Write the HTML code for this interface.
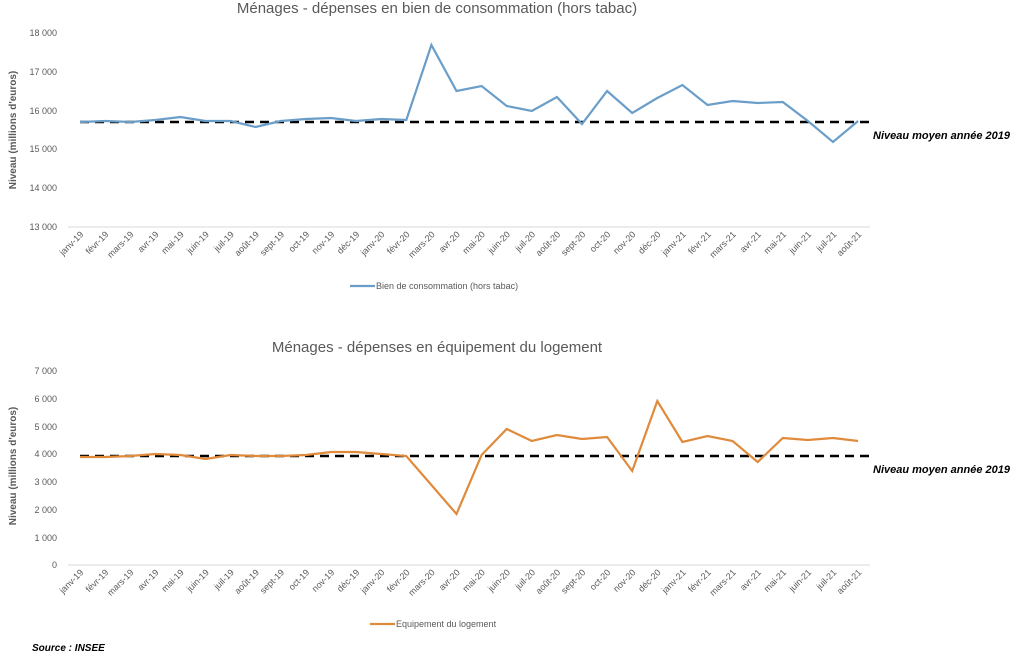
<!DOCTYPE html>
<html><head><meta charset="utf-8"><style>
body{margin:0;background:#fff;}
svg{display:block;font-family:"Liberation Sans",sans-serif;}
</style></head><body>
<svg width="1024" height="658" viewBox="0 0 1024 658" xmlns="http://www.w3.org/2000/svg">
<g id="c"></g>
</svg>
<script>
var months=["janv-19","févr-19","mars-19","avr-19","mai-19","juin-19","juil-19","août-19","sept-19","oct-19","nov-19","déc-19","janv-20","févr-20","mars-20","avr-20","mai-20","juin-20","juil-20","août-20","sept-20","oct-20","nov-20","déc-20","janv-21","févr-21","mars-21","avr-21","mai-21","juin-21","juil-21","août-21"];
var valsA=[122,121,122,120,117,121,121,127,121,119,118,121,119,120,45,91,86,106,111,97,124,91,113,98,85,105,101,103,102,121,142,121];
var valsB=[457,457,456,454,455,459,455,456,456,455,452,452,454,456,485,514,455,429,441,435,439,437,471,401,442,436,441,462,438,440,438,441];
function X(i){return 80+i*25.1;}
var s='';
function chart(title,ty,vals,color,yTicks,axisY,dashY,legY,legText,legX){
 s+='<text x="437" y="'+ty+'" text-anchor="middle" font-size="15" fill="#595959">'+title+'</text>';
 yTicks.forEach(function(t){s+='<text x="57" y="'+(t[1]+3)+'" text-anchor="end" font-size="9" fill="#595959">'+t[0]+'</text>';});
 s+='<line x1="68" y1="'+axisY+'" x2="870" y2="'+axisY+'" stroke="#d9d9d9"/>';
 months.forEach(function(m,i){var x=X(i);s+='<text transform="translate('+(x+4)+','+(axisY+8)+') rotate(-45)" text-anchor="end" font-size="9" fill="#595959">'+m+'</text>';});
 s+='<line x1="80" y1="'+dashY+'" x2="870" y2="'+dashY+'" stroke="#000" stroke-width="2.5" stroke-dasharray="9,6"/>';
 s+='<polyline fill="none" stroke="'+color+'" stroke-width="2.2" points="'+vals.map(function(v,i){return X(i)+','+v;}).join(' ')+'"/>';
 s+='<text x="873" y="'+(dashY+17)+'" font-size="11" font-weight="bold" font-style="italic" fill="#000">Niveau moyen année 2019</text>';
 s+='<line x1="'+legX+'" y1="'+legY+'" x2="'+(legX+25)+'" y2="'+legY+'" stroke="'+color+'" stroke-width="2.2"/>';
 s+='<text x="'+(legX+26)+'" y="'+(legY+3)+'" font-size="9" fill="#595959">'+legText+'</text>';
}
chart("Ménages - dépenses en bien de consommation (hors tabac)",13,valsA,"#6a9ec9",
 [["18 000",33],["17 000",72],["16 000",111],["15 000",149],["14 000",188],["13 000",227]],227,122,286,"Bien de consommation (hors tabac)",350);
chart("Ménages - dépenses en équipement du logement",352,valsB,"#e08a3c",
 [["7 000",371],["6 000",399],["5 000",427],["4 000",454],["3 000",482],["2 000",510],["1 000",538],["0",565]],565,456,624,"Equipement du logement",370);
s+='<text x="32" y="651" font-size="10" font-weight="bold" font-style="italic" fill="#000">Source : INSEE</text>';
s+='<text transform="translate(16,130) rotate(-90)" text-anchor="middle" font-size="10" font-weight="bold" fill="#595959">Niveau (millions d\'euros)</text>';
s+='<text transform="translate(16,466) rotate(-90)" text-anchor="middle" font-size="10" font-weight="bold" fill="#595959">Niveau (millions d\'euros)</text>';
document.getElementById('c').innerHTML=s;
</script>
</body></html>
